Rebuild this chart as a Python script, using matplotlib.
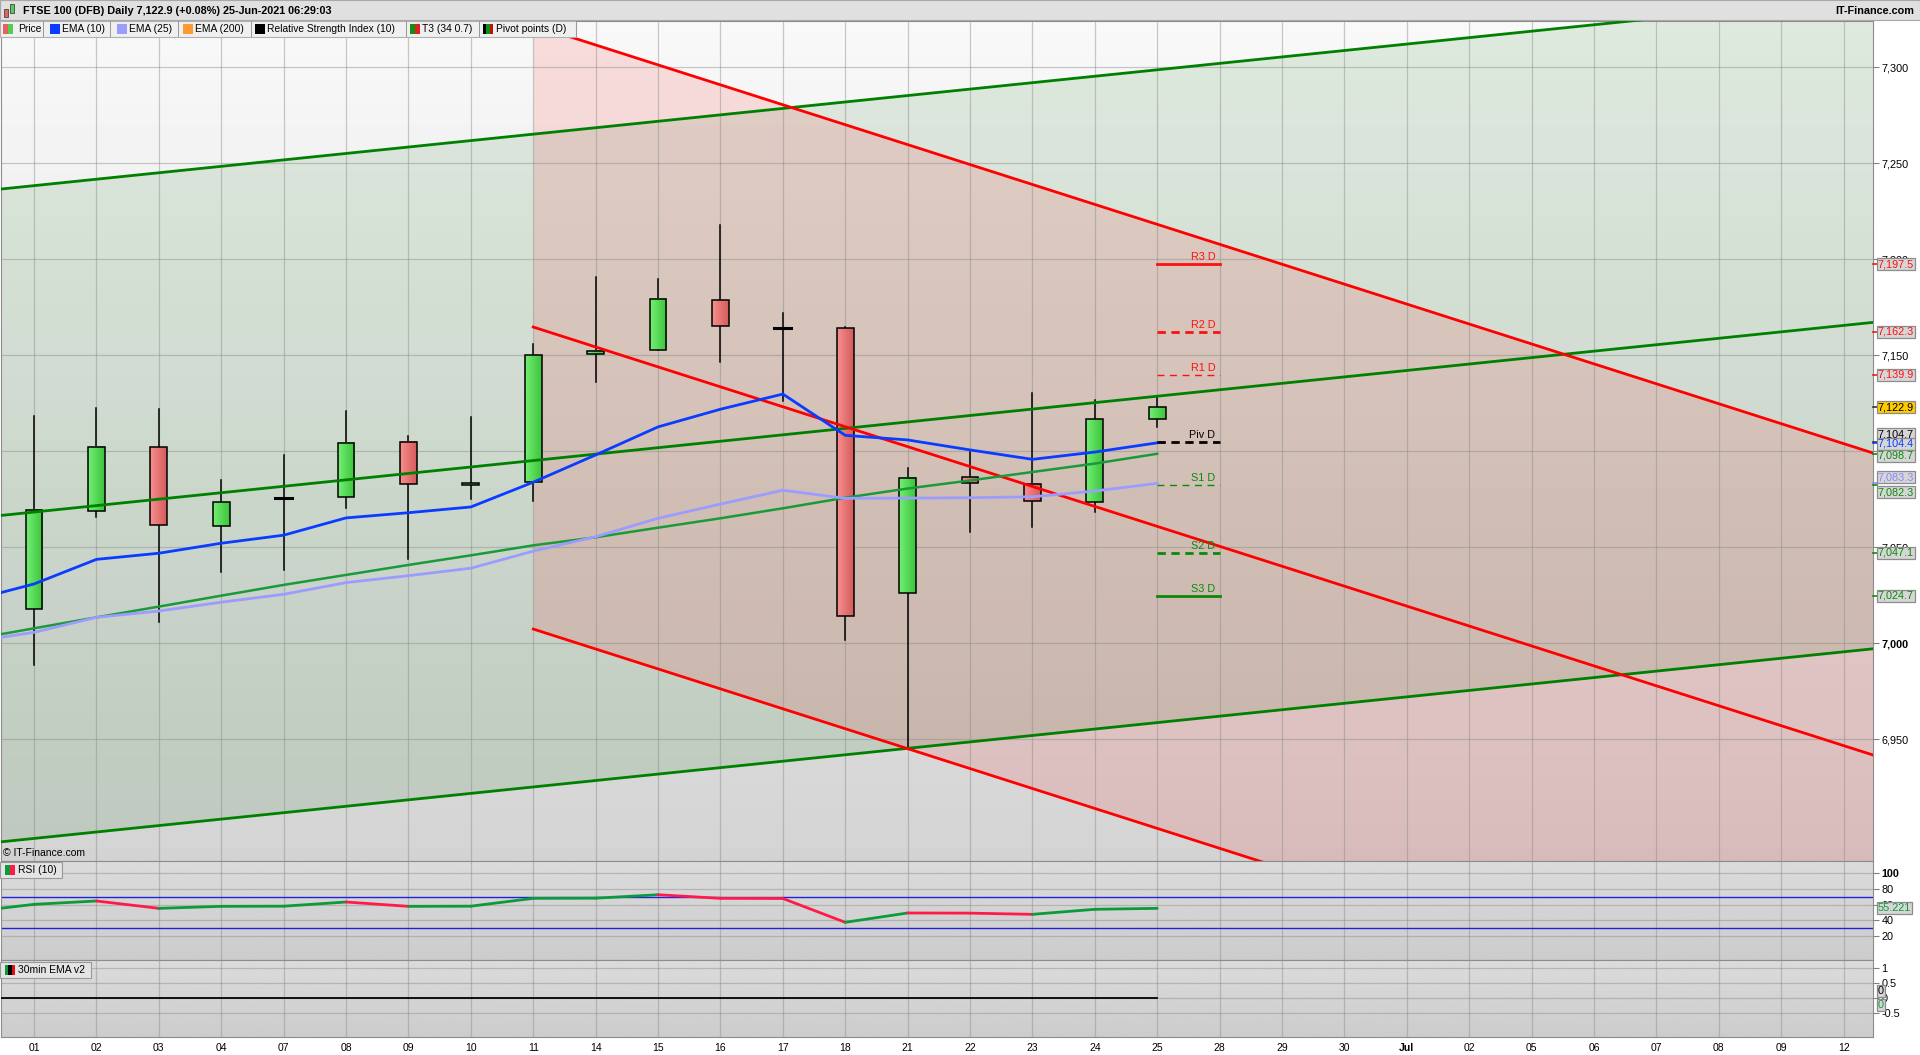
import numpy as np
import matplotlib.pyplot as plt
from matplotlib.colors import LinearSegmentedColormap
from matplotlib.patches import Rectangle

plt.rcParams['font.family'] = ['Liberation Sans', 'DejaVu Sans']

# ---------------- data ----------------
date_labels = ['01', '02', '03', '04', '07', '08', '09', '10', '11', '14', '15', '16', '17', '18',
               '21', '22', '23', '24', '25', '28', '29', '30', 'Jul', '02', '05', '06', '07', '08',
               '09', '12']

# daily candles, 01 Jun .. 25 Jun 2021
opens = [7017.7, 7068.7, 7102.1, 7060.9, 7075.8, 7076.0, 7104.7, 7082.3, 7083.9, 7150.5,
         7152.6, 7178.6, 7164.1, 7164.1, 7026.1, 7086.4, 7082.8, 7073.5, 7116.7]
highs = [7118.4, 7122.6, 7122.0, 7085.1, 7098.1, 7121.0, 7108.0, 7117.9, 7155.9, 7190.8,
         7189.7, 7217.9, 7171.9, 7164.9, 7091.4, 7099.7, 7130.4, 7126.5, 7128.6]
lows = [6988.9, 7065.9, 7011.2, 7037.3, 7038.3, 7070.6, 7044.1, 7075.3, 7074.3, 7136.3,
        7152.6, 7146.7, 7126.0, 7001.9, 6946.0, 7058.1, 7060.7, 7068.5, 7112.4]
closes = [7069.3, 7102.1, 7061.5, 7073.4, 7075.8, 7104.2, 7082.8, 7083.3, 7150.0, 7152.4,
          7179.2, 7165.1, 7164.1, 7014.1, 7086.0, 7083.4, 7073.9, 7116.7, 7122.9]

# indicators (first value = previous session, 28 May)
ema10 = [7022.4, 7030.9, 7043.7, 7046.9, 7052.1, 7056.3, 7065.3, 7068.0, 7071.0, 7083.9,
         7098.1, 7112.7, 7121.9, 7129.8, 7108.3, 7105.9, 7100.7, 7095.8, 7099.6, 7104.4]
ema25 = [7000.8, 7005.7, 7013.5, 7016.8, 7021.4, 7025.5, 7031.6, 7035.2, 7039.1, 7048.0,
         7055.5, 7065.1, 7072.5, 7079.7, 7075.5, 7075.6, 7075.8, 7076.3, 7079.3, 7083.3]
t3 = [7002.0, 7007.8, 7013.5, 7019.1, 7024.8, 7030.4, 7035.6, 7040.8, 7045.8, 7051.0,
      7055.2, 7060.2, 7065.1, 7070.3, 7075.8, 7080.6, 7084.8, 7089.2, 7093.6, 7098.7]
rsi = [51.0, 60.2, 64.4, 55.2, 57.7, 57.9, 63.1, 57.7, 57.9, 67.7,
       67.9, 72.2, 67.7, 67.5, 37.7, 49.4, 49.2, 47.7, 54.0, 55.2]
ema30 = [0.0, 0.0, 0.0, 0.0, 0.0, 0.0, 0.0, 0.0, 0.0, 0.0,
         0.0, 0.0, 0.0, 0.0, 0.0, 0.0, 0.0, 0.0, 0.0, 0.0]

# daily pivot points for 25 Jun
pivot_names = ['R3 D', 'R2 D', 'R1 D', 'Piv D', 'S1 D', 'S2 D', 'S3 D']
pivot_values = [7197.5, 7162.3, 7139.9, 7104.7, 7082.3, 7047.1, 7024.7]

# drawn channels (end points)
green_x = [-1, 30]
green_upper = [7235.0, 7338.9]
green_mid = [7065.0, 7168.9]
green_lower = [6895.0, 6998.9]
red_x = [8, 30]
red_upper = [7322.0, 7093.6]
red_mid = [7164.7, 6936.3]
red_lower = [7007.4, 6779.0]

price_ticks = [6950, 7000, 7050, 7100, 7150, 7200, 7250, 7300]

# ---------------- colours ----------------
GREEN = '#0a8a0a'
RED = '#ff1010'
BLUE = '#0a3cff'
LBLUE = '#9c9cff'
T3C = '#1a9a3a'

W, H = 1920, 1055
fig = plt.figure(figsize=(W / 100, H / 100), dpi=100)


def rect(x0, y0, x1, y1):
    # pixel box measured from the top-left corner -> figure fraction
    return [x0 / W, 1 - y1 / H, (x1 - x0) / W, (y1 - y0) / H]


def box_px(x0, y0, x1, y1, **kw):
    fig.add_artist(Rectangle((x0 / W, 1 - y1 / H), (x1 - x0) / W, (y1 - y0) / H,
                             transform=fig.transFigure, **kw))


def text_px(x, y, s, **kw):
    fig.text(x / W, 1 - y / H, s, **kw)


ax = fig.add_axes(rect(1, 21, 1873, 861))
ax_rsi = fig.add_axes(rect(1, 861, 1873, 960), sharex=ax)
ax_ema = fig.add_axes(rect(1, 960, 1873, 1037), sharex=ax)

xmin, xmax = -0.53, 29.47
ymin, ymax = 6886.6, 7324.1
line_x = np.arange(-1, len(ema10) - 1)
cx = np.arange(len(opens))

# ---------------- main panel ----------------
bg = np.linspace(0.975, 0.83, 256).reshape(-1, 1)
ax.imshow(bg, cmap='gray', vmin=0, vmax=1, extent=[xmin, xmax, ymin, ymax],
          aspect='auto', zorder=0)
ax.fill_between(green_x, green_lower, green_upper, color='#006800', alpha=0.10, lw=0, zorder=0.2)
ax.fill_between(red_x, red_lower, red_upper, color='#ff0000', alpha=0.11, lw=0, zorder=0.3)

# candles
cmap_up = LinearSegmentedColormap.from_list('up', ['#74ee74', '#3cc43c'])
cmap_dn = LinearSegmentedColormap.from_list('dn', ['#f88e8e', '#d45c5c'])
grad = np.linspace(0, 1, 32).reshape(1, -1)
bw = 0.27
for x, o, h, l, c in zip(cx, opens, highs, lows, closes):
    ax.plot([x, x], [l, h], color='black', lw=1.1, zorder=2)
    lo, hi = min(o, c), max(o, c)
    if hi - lo < 0.6:
        ax.plot([x - bw / 2, x + bw / 2], [o, o], color='black', lw=2.2, zorder=2.2)
        continue
    ax.imshow(grad, cmap=cmap_up if c > o else cmap_dn, extent=[x - bw / 2, x + bw / 2, lo, hi],
              aspect='auto', zorder=2.1, interpolation='bilinear')
    ax.add_patch(Rectangle((x - bw / 2, lo), bw, hi - lo, fill=False, ec='black', lw=1.1, zorder=2.2))

# channel lines
for ys in (green_upper, green_mid, green_lower):
    ax.plot(green_x, ys, color='#008000', lw=2, zorder=3)
for ys in (red_upper, red_mid, red_lower):
    ax.plot(red_x, ys, color='#ff0000', lw=2, zorder=3)

# indicators
ax.plot(line_x, t3, color=T3C, lw=1.8, zorder=3.1)
ax.plot(line_x, ema25, color=LBLUE, lw=2, zorder=3.2)
ax.plot(line_x, ema10, color=BLUE, lw=2, zorder=3.3)

# pivot points
piv_colors = [RED, RED, RED, 'black', GREEN, GREEN, GREEN]
piv_styles = ['-', (0, (3, 2)), (0, (5, 4)), (0, (3, 2)), (0, (5, 4)), (0, (3, 2)), '-']
piv_widths = [2, 2, 1, 2, 1, 2, 2]
for name, v, col, ls, lw in zip(pivot_names, pivot_values, piv_colors, piv_styles, piv_widths):
    ax.plot([18, 19], [v, v], color=col, ls=ls, lw=lw, zorder=3.5)
    ax.annotate(name, xy=(18.93, v), xytext=(0, 2), textcoords='offset pixels',
                ha='right', va='bottom', fontsize=7.8, color=col, zorder=3.6)

ax.set_xlim(xmin, xmax)
ax.set_ylim(ymin, ymax)
ax.set_xticks(range(len(date_labels)))
ax.grid(True, color='#8a8a8a', alpha=0.45, lw=0.9)
ax.set_axisbelow(True)
ax.yaxis.tick_right()
ylabs = ax.set_yticks(price_ticks, [f'{t:,}' for t in price_ticks])
for lab in ax.get_yticklabels():
    if lab.get_text() == '7,000':
        lab.set_fontweight('bold')
ax.tick_params(axis='y', direction='out', length=4, pad=2, labelsize=7.8, color='#808080')
ax.tick_params(axis='x', length=0, labelbottom=False)
for s in ax.spines.values():
    s.set_color('#8c8c8c')

# value boxes on the right axis
right_labels = [
    ('7,197.5', 7197.5, RED, '#d6d6d6', 0),
    ('7,162.3', 7162.3, RED, '#d6d6d6', 0),
    ('7,139.9', 7139.9, RED, '#d6d6d6', 0),
    ('7,122.9', 7122.9, 'black', '#ffcc00', 0),
    ('7,104.7', 7104.7, 'black', '#d6d6d6', 8),
    ('7,104.4', 7104.4, BLUE, '#d6d6d6', -1),
    ('7,098.7', 7098.7, GREEN, '#d6d6d6', -2),
    ('7,083.3', 7083.3, '#8888ff', '#d6d6d6', 6),
    ('7,082.3', 7082.3, GREEN, '#d6d6d6', -7),
    ('7,047.1', 7047.1, GREEN, '#d6d6d6', 0),
    ('7,024.7', 7024.7, GREEN, '#d6d6d6', 0),
]
for txt, v, col, fc, dy in right_labels:
    ax.plot([1.0, 1.0 + 4 / 1872], [v, v], transform=ax.get_yaxis_transform(),
            color=col if col != 'black' else '#333333', lw=1.2, clip_on=False, zorder=5)
    ax.annotate(txt, xy=(1.0, v), xycoords=('axes fraction', 'data'), xytext=(5, dy),
                textcoords='offset pixels', ha='left', va='center', fontsize=7.8, color=col,
                bbox=dict(boxstyle='square,pad=0.1', fc=fc, ec='#8c8c8c', lw=0.9),
                annotation_clip=False, zorder=6)

# ---------------- RSI panel ----------------
bg2 = np.linspace(0.86, 0.80, 64).reshape(-1, 1)
ax_rsi.imshow(bg2, cmap='gray', vmin=0, vmax=1, extent=[xmin, xmax, -9.4, 114.4],
              aspect='auto', zorder=0)
ax_rsi.axhline(70, color='#2020e0', lw=1, zorder=2)
ax_rsi.axhline(30, color='#2020e0', lw=1, zorder=2)
for i in range(len(rsi) - 1):
    col = '#0c9a3a' if rsi[i + 1] >= rsi[i] else '#ff1a4a'
    ax_rsi.plot(line_x[i:i + 2], rsi[i:i + 2], color=col, lw=2, zorder=3, solid_capstyle='round')
ax_rsi.set_ylim(-9.4, 114.4)
ax_rsi.yaxis.tick_right()
ax_rsi.set_yticks([20, 40, 60, 80, 100], ['20', '40', '60', '80', '100'])
ax_rsi.get_yticklabels()[-1].set_fontweight('bold')
ax_rsi.tick_params(axis='y', direction='out', length=4, pad=2, labelsize=7.8, color='#808080')
ax_rsi.tick_params(axis='x', length=0, labelbottom=False)
ax_rsi.grid(True, color='#8a8a8a', alpha=0.45, lw=0.9)
ax_rsi.set_axisbelow(True)
for s in ax_rsi.spines.values():
    s.set_color('#8c8c8c')
ax_rsi.annotate('55.221', xy=(1.0, rsi[-1]), xycoords=('axes fraction', 'data'), xytext=(5, 0),
                textcoords='offset pixels', ha='left', va='center', fontsize=7.8, color='#0c9a3a',
                bbox=dict(boxstyle='square,pad=0.1', fc='#d6d6d6', ec='#8c8c8c', lw=0.9),
                annotation_clip=False, zorder=6)

# ---------------- 30min EMA panel ----------------
ax_ema.imshow(bg2, cmap='gray', vmin=0, vmax=1, extent=[xmin, xmax, -1.28, 1.25],
              aspect='auto', zorder=0)
ax_ema.plot(line_x, ema30, color='black', lw=1.3, zorder=3)
ax_ema.set_ylim(-1.28, 1.25)
ax_ema.yaxis.tick_right()
ax_ema.set_yticks([-0.5, 0, 0.5, 1], ['-0.5', '0', '0.5', '1'])
ax_ema.tick_params(axis='y', direction='out', length=4, pad=2, labelsize=7.8, color='#808080')
ax_ema.set_xticks(range(len(date_labels)), date_labels)
ax_ema.tick_params(axis='x', length=0, pad=4, labelsize=7.5)
for lab in ax_ema.get_xticklabels():
    if lab.get_text() == 'Jul':
        lab.set_fontweight('bold')
ax_ema.grid(True, color='#8a8a8a', alpha=0.45, lw=0.9)
ax_ema.set_axisbelow(True)
for s in ax_ema.spines.values():
    s.set_color('#8c8c8c')
for dy, col in ((7, 'black'), (-7, '#0c9a3a')):
    ax_ema.annotate('0', xy=(1.0, 0), xycoords=('axes fraction', 'data'), xytext=(5, dy),
                    textcoords='offset pixels', ha='left', va='center', fontsize=7.8, color=col,
                    bbox=dict(boxstyle='square,pad=0.1', fc='#d6d6d6', ec='#8c8c8c', lw=0.9),
                    annotation_clip=False, zorder=6)
ax_ema.set_xlim(xmin, xmax)

# ---------------- title bar & legend strip ----------------
box_px(0, 0, W, 20, fc='#e0e0e0', ec='#a8a8a8', lw=0.8)
box_px(4, 9, 8, 17, fc='#e86060', ec='#444444', lw=0.6)
box_px(10, 4, 14, 13, fc='#50d050', ec='#444444', lw=0.6)
text_px(23, 10.5, 'FTSE 100 (DFB) Daily 7,122.9 (+0.08%) 25-Jun-2021 06:29:03',
        fontsize=7.8, fontweight='bold', va='center', ha='left')
text_px(1914, 10.5, 'IT-Finance.com', fontsize=7.8, fontweight='bold', va='center', ha='right')

box_px(0, 21, 576, 37, fc='#f0f0f0', ec='#b0b0b0', lw=0.8)
legend_items = [
    ('Price', ['#e86060', '#50d050'], 3, 18, 43),
    ('EMA (10)', [BLUE], 50, 62, 110),
    ('EMA (25)', [LBLUE], 117, 129, 178),
    ('EMA (200)', ['#ff9933'], 183, 195, 251),
    ('Relative Strength Index (10)', ['black'], 255, 267, 406),
    ('T3 (34 0.7)', ['#109010', '#e02020'], 410, 422, 479),
    ('Pivot points (D)', ['black', '#109010', '#c01010'], 483, 496, 576),
]
for name, cols, xi, xt, xs in legend_items:
    seg = 10 / len(cols)
    for k, c in enumerate(cols):
        box_px(xi + k * seg, 24, xi + (k + 1) * seg, 34, fc=c, ec='none')
    text_px(xt, 29.5, name, fontsize=7.4, va='center', ha='left')
    box_px(xs, 21, xs + 0.8, 37, fc='#9a9a9a', ec='none')

text_px(3, 853, '\u00a9 IT-Finance.com', fontsize=7.5, va='center', ha='left')

# panel label boxes
box_px(0, 862, 62, 878, fc='#e4e4e4', ec='#9a9a9a', lw=0.8)
box_px(5, 865, 10, 875, fc='#0c9a3a', ec='none')
box_px(10, 865, 15, 875, fc='#ff1a4a', ec='none')
text_px(18, 870, 'RSI (10)', fontsize=7.5, va='center', ha='left')

box_px(0, 962, 91, 978, fc='#e4e4e4', ec='#9a9a9a', lw=0.8)
box_px(5, 965, 8.3, 975, fc='#0c9a3a', ec='none')
box_px(8.3, 965, 11.6, 975, fc='black', ec='none')
box_px(11.6, 965, 15, 975, fc='#e01010', ec='none')
text_px(18, 970, '30min EMA v2', fontsize=7.5, va='center', ha='left')

fig.savefig('out.png', dpi=100, facecolor='white')
